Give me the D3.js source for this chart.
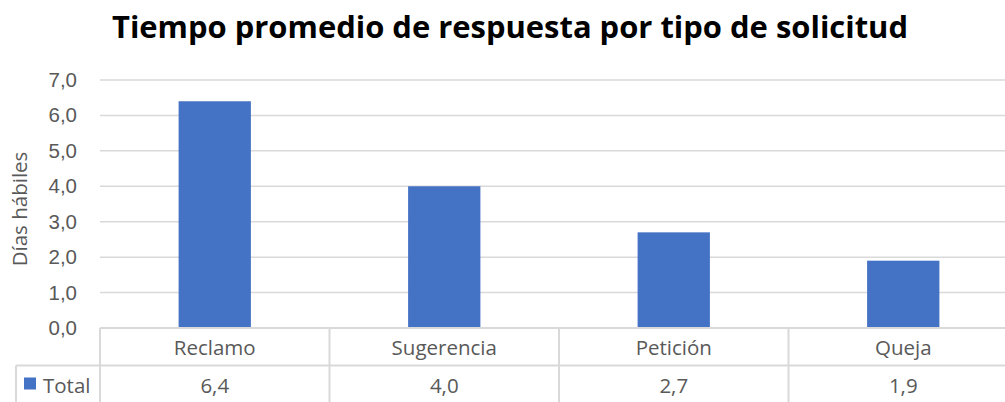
<!DOCTYPE html>
<html>
<head>
<meta charset="utf-8">
<script src="https://cdn.jsdelivr.net/npm/d3@7"></script>
<style>
  body { margin: 0; background: #fff; }
  svg { display: block; font-family: "Open Sans", "Noto Sans", sans-serif; }
  .tick text { fill: #595959; }
</style>
</head>
<body>
<div class="chart"></div>
<script>
// data
const categories = ['Reclamo', 'Sugerencia', 'Petición', 'Queja'];
const totals = [6.4, 4.0, 2.7, 1.9];
const yTicks = [0, 1, 2, 3, 4, 5, 6, 7];
const seriesName = 'Total';
const chartTitle = 'Tiempo promedio de respuesta por tipo de solicitud';
const yLabel = 'Días hábiles';

const fmt = v => d3.format('.1f')(v).replace('.', ',');

const svg_width = 1005;
const svg_height = 402;
const plot = { left: 100, right: 1018, top: 80, bottom: 328 };
const rowH = 37.5;
const gridColor = '#d9d9d9';
const textColor = '#595959';
const barColor = '#4472c4';
const fs = '20.5px';

const svg = d3.select('.chart').append('svg')
    .attr('width', svg_width).attr('height', svg_height);

// scales
const xScale = d3.scaleBand().domain(categories)
    .range([plot.left, plot.right])
    .paddingInner(0).paddingOuter(0);
const yScale = d3.scaleLinear().domain([0, 7]).range([plot.bottom, plot.top]);

// gridlines
svg.append('g')
    .selectAll('line')
    .data(yTicks.filter(d => d > 0))
    .join('line')
    .attr('x1', plot.left).attr('x2', plot.right)
    .attr('y1', d => yScale(d)).attr('y2', d => yScale(d))
    .attr('stroke', gridColor).attr('stroke-width', 1.5);

// bars
const barW = xScale.bandwidth() * 0.315;
svg.append('g')
    .selectAll('rect')
    .data(categories.map((c, i) => ({ cat: c, val: totals[i] })))
    .join('rect')
    .attr('x', d => xScale(d.cat) + (xScale.bandwidth() - barW) / 2)
    .attr('y', d => yScale(d.val))
    .attr('width', barW)
    .attr('height', d => yScale(0) - yScale(d.val))
    .attr('fill', barColor);

// y axis
const yAxis = d3.axisLeft(yScale).tickValues(yTicks).tickFormat(fmt).tickSize(0).tickPadding(23);
const yAxisDraw = svg.append('g')
    .attr('transform', `translate(${plot.left},0)`)
    .call(yAxis);
yAxisDraw.select('.domain').remove();
yAxisDraw.selectAll('text').style('font-size', fs);

// y label
svg.append('text')
    .attr('transform', `translate(27,${(plot.top + plot.bottom) / 2 + 5}) rotate(-90)`)
    .attr('text-anchor', 'middle')
    .style('font-size', fs)
    .style('fill', textColor)
    .text(yLabel);

// data table
const table = svg.append('g');
const hLines = [
  { y: plot.bottom, x1: plot.left, x2: plot.right },
  { y: plot.bottom + rowH, x1: 16, x2: plot.right },
  { y: plot.bottom + rowH * 2, x1: 16, x2: plot.right }
];
table.selectAll('.hline').data(hLines).join('line')
    .attr('class', 'hline')
    .attr('x1', d => d.x1).attr('x2', d => d.x2)
    .attr('y1', d => d.y).attr('y2', d => d.y)
    .attr('stroke', gridColor).attr('stroke-width', 2);

const vxs = categories.map(c => xScale(c)).concat([plot.right]);
table.selectAll('.vline').data(vxs).join('line')
    .attr('class', 'vline')
    .attr('x1', d => d).attr('x2', d => d)
    .attr('y1', plot.bottom).attr('y2', plot.bottom + rowH * 2)
    .attr('stroke', gridColor).attr('stroke-width', 2);
table.append('line')
    .attr('x1', 16).attr('x2', 16)
    .attr('y1', plot.bottom + rowH).attr('y2', plot.bottom + rowH * 2)
    .attr('stroke', gridColor).attr('stroke-width', 2);

// category row
table.selectAll('.cat').data(categories).join('text')
    .attr('class', 'cat')
    .attr('x', d => xScale(d) + xScale.bandwidth() / 2)
    .attr('y', plot.bottom + 27)
    .attr('text-anchor', 'middle')
    .style('font-size', fs).style('fill', textColor)
    .text(d => d);

// values row
table.selectAll('.val').data(totals).join('text')
    .attr('class', 'val')
    .attr('x', (d, i) => xScale(categories[i]) + xScale.bandwidth() / 2)
    .attr('y', plot.bottom + rowH + 27)
    .attr('text-anchor', 'middle')
    .style('font-size', fs).style('fill', textColor)
    .text(d => fmt(d));

// legend key
table.append('rect')
    .attr('x', 24).attr('y', plot.bottom + rowH + 12)
    .attr('width', 12).attr('height', 12)
    .attr('fill', barColor);
table.append('text')
    .attr('x', 43).attr('y', plot.bottom + rowH + 27)
    .style('font-size', fs).style('fill', textColor)
    .text(seriesName);

// title
svg.append('text')
    .attr('x', 510).attr('y', 38)
    .attr('text-anchor', 'middle')
    .style('font-size', '31px').style('font-weight', 'bold').style('fill', '#000')
    .attr('textLength', 796).attr('lengthAdjust', 'spacingAndGlyphs')
    .text(chartTitle);
</script>
</body>
</html>
